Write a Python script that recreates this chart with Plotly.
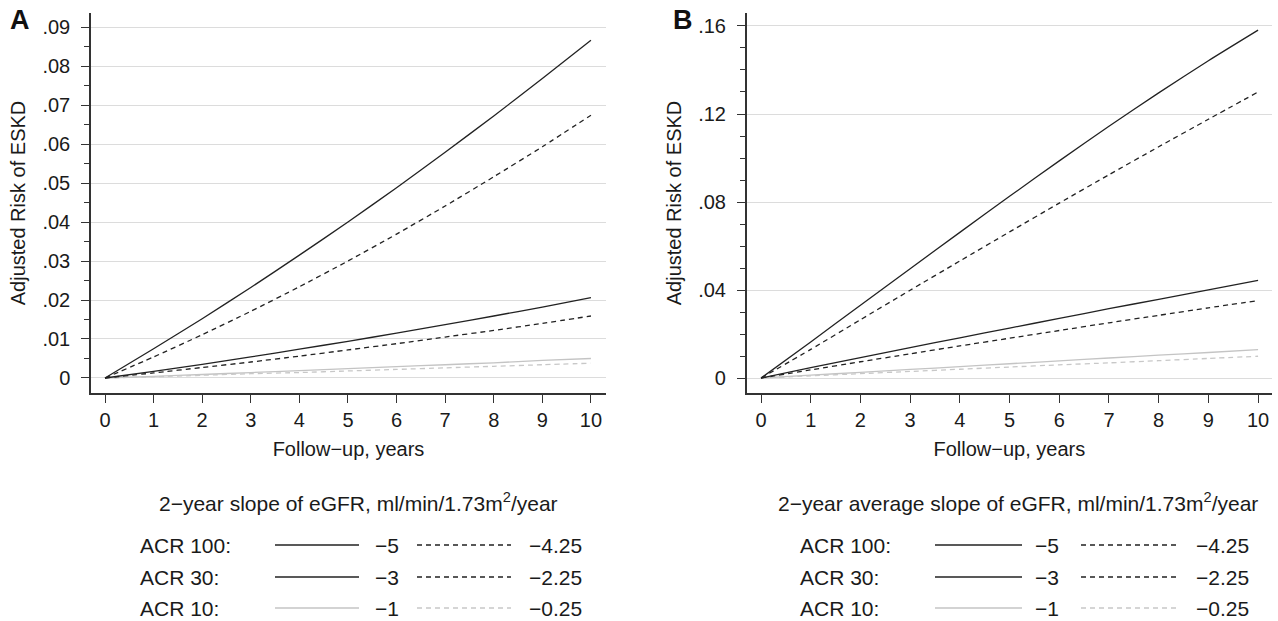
import plotly.graph_objects as go

# ---------------- data ----------------
years = [0, 1, 2, 3, 4, 5, 6, 7, 8, 9, 10]

# Panel A: 2-year slope of eGFR
a_acr100_m5 = [0, .0075, .0152, .0232, .0315, .0400, .0488, .0579, .0672, .0768, .0866]
a_acr100_m425 = [0, .0054, .0111, .0171, .0234, .0300, .0369, .0441, .0516, .0593, .0674]
a_acr30_m3 = [0, .0017, .0035, .0054, .0074, .0094, .0115, .0137, .0159, .0182, .0206]
a_acr30_m225 = [0, .0013, .0027, .0041, .0056, .0072, .0088, .0105, .0122, .0140, .0159]
a_acr10_m1 = [0, .0004, .0009, .0014, .0019, .0024, .0029, .0034, .0039, .0045, .0050]
a_acr10_m025 = [0, .0003, .0007, .0011, .0014, .0018, .0022, .0026, .0030, .0034, .0038]

# Panel B: 2-year average slope of eGFR
b_acr100_m5 = [0, .0164, .0331, .0497, .0662, .0826, .0987, .1144, .1296, .1442, .1581]
b_acr100_m425 = [0, .0130, .0265, .0399, .0532, .0664, .0795, .0924, .1051, .1176, .1300]
b_acr30_m3 = [0, .0047, .0093, .0138, .0183, .0227, .0271, .0315, .0358, .0401, .0444]
b_acr30_m225 = [0, .0037, .0074, .0110, .0146, .0181, .0216, .0251, .0285, .0319, .0352]
b_acr10_m1 = [0, .0013, .0026, .0039, .0052, .0065, .0078, .0091, .0104, .0116, .0129]
b_acr10_m025 = [0, .0010, .0020, .0030, .0040, .0050, .0060, .0069, .0079, .0089, .0099]

x_ticks = [0, 1, 2, 3, 4, 5, 6, 7, 8, 9, 10]
a_yticks = [0, .01, .02, .03, .04, .05, .06, .07, .08, .09]
a_yticktext = ["0", ".01", ".02", ".03", ".04", ".05", ".06", ".07", ".08", ".09"]
b_yticks = [0, .04, .08, .12, .16]
b_yticktext = ["0", ".04", ".08", ".12", ".16"]

row_labels = ["ACR 100:", "ACR 30:", "ACR 10:"]
solid_labels = ["\u22125", "\u22123", "\u22121"]
dash_labels = ["\u22124.25", "\u22122.25", "\u22120.25"]
a_legend_title = "2\u2212year slope of eGFR, ml/min/1.73m<sup>2</sup>/year"
b_legend_title = "2\u2212year average slope of eGFR, ml/min/1.73m<sup>2</sup>/year"

# ---------------- styling ----------------
W, H = 1278, 621
FONT = "Liberation Sans, Arial, Helvetica, sans-serif"
TXT = "#1a1a1a"
DARK = "#222222"
LIGHT = "#c4c4c4"
LIGHT_D = "#c8c8c8"
GRID = "#dcdcdc"
AXIS = "#333333"
DASH = "5px,4px"
LW = 1.3
LEG_FS = 21


def px(x):
    return x / W


def py(y):
    return 1 - y / H


fig = go.Figure()

series_a = [(a_acr100_m5, DARK, "solid"), (a_acr100_m425, DARK, DASH),
            (a_acr30_m3, DARK, "solid"), (a_acr30_m225, DARK, DASH),
            (a_acr10_m1, LIGHT, "solid"), (a_acr10_m025, LIGHT_D, DASH)]
series_b = [(b_acr100_m5, DARK, "solid"), (b_acr100_m425, DARK, DASH),
            (b_acr30_m3, DARK, "solid"), (b_acr30_m225, DARK, DASH),
            (b_acr10_m1, LIGHT, "solid"), (b_acr10_m025, LIGHT_D, DASH)]
names = ["ACR 100, \u22125", "ACR 100, \u22124.25", "ACR 30, \u22123",
         "ACR 30, \u22122.25", "ACR 10, \u22121", "ACR 10, \u22120.25"]

# draw light lines first so dark ones are on top
order = [4, 5, 2, 3, 0, 1]
for axes_suffix, series in (("", series_a), ("2", series_b)):
    for i in order:
        vals, col, dash = series[i]
        fig.add_trace(go.Scatter(x=years, y=vals, mode="lines", name=names[i],
                                 line=dict(color=col, width=LW, dash=dash,
                                           shape="spline", smoothing=0.6),
                                 xaxis="x" + axes_suffix, yaxis="y" + axes_suffix,
                                 showlegend=False))

common_x = dict(showline=True, linecolor=AXIS, linewidth=1.5, ticks="outside",
                ticklen=8, tickwidth=1.3, tickcolor=AXIS, showgrid=False,
                zeroline=False, tickmode="array", tickvals=x_ticks,
                tickfont=dict(size=20, color=TXT, family=FONT),
                title=dict(text="Follow\u2212up, years",
                           font=dict(size=20, color=TXT, family=FONT), standoff=12))
common_y = dict(showline=True, linecolor=AXIS, linewidth=1.5, ticks="outside",
                ticklen=8, tickwidth=1.3, tickcolor=AXIS, showgrid=True,
                gridcolor=GRID, gridwidth=1.3, zeroline=False, tickmode="array",
                ticklabelstandoff=7,
                tickfont=dict(size=20, color=TXT, family=FONT),
                title=dict(text="Adjusted Risk of ESKD",
                           font=dict(size=20, color=TXT, family=FONT), standoff=11))

fig.update_layout(
    width=W, height=H,
    margin=dict(l=0, r=0, t=0, b=0),
    paper_bgcolor="white", plot_bgcolor="white",
    font=dict(family=FONT, color=TXT, size=18),
    xaxis=dict(common_x, domain=[px(91), px(606)], range=[-0.288, 10.31], anchor="y"),
    yaxis=dict(common_y, domain=[py(393), py(13)], range=[-0.00385, 0.0936],
               tickvals=a_yticks, ticktext=a_yticktext, anchor="x",
               minor=dict(ticks="outside", ticklen=5, tickwidth=1.3, tickcolor=AXIS,
                          tick0=0, dtick=0.005, showgrid=False)),
    xaxis2=dict(common_x, domain=[px(746.7), px(1272)], range=[-0.288, 10.28], anchor="y2"),
    yaxis2=dict(common_y, domain=[py(393), py(13)], range=[-0.0068, 0.1659],
                tickvals=b_yticks, ticktext=b_yticktext, anchor="x2",
                minor=dict(ticks="outside", ticklen=5, tickwidth=1.3, tickcolor=AXIS,
                           tick0=0, dtick=0.01, showgrid=False)),
)

# panel letters
for letter, xx in (("A", 8), ("B", 671)):
    fig.add_annotation(text="<b>%s</b>" % letter, x=px(xx), y=py(20), xref="paper",
                       yref="paper", xanchor="left", yanchor="middle", showarrow=False,
                       font=dict(size=27, color="#111111", family=FONT))

# legends (drawn as keys)
legend_specs = [
    dict(title=a_legend_title, title_cx=358, lab_x=138, s0=275, s1=359, v1=373,
         d0=417, d1=511, v2=527),
    dict(title=b_legend_title, title_cx=1018, lab_x=798, s0=935, s1=1022, v1=1033,
         d0=1081, d1=1176, v2=1194),
]
row_y = [545, 577, 608]
row_cols = [(DARK, DARK), (DARK, DARK), (LIGHT, LIGHT_D)]
for spec in legend_specs:
    fig.add_annotation(text=spec["title"], x=px(spec["title_cx"]), y=py(502),
                       xref="paper", yref="paper", xanchor="center", yanchor="middle",
                       showarrow=False, font=dict(size=LEG_FS, color=TXT, family=FONT))
    for r in range(3):
        yy = row_y[r]
        fig.add_annotation(text=row_labels[r], x=px(spec["lab_x"]), y=py(yy),
                           xref="paper", yref="paper", xanchor="left", yanchor="middle",
                           showarrow=False, font=dict(size=LEG_FS, color=TXT, family=FONT))
        fig.add_shape(type="line", xref="paper", yref="paper",
                      x0=px(spec["s0"]), x1=px(spec["s1"]), y0=py(yy), y1=py(yy),
                      line=dict(color=row_cols[r][0], width=LW))
        fig.add_annotation(text=solid_labels[r], x=px(spec["v1"]), y=py(yy),
                           xref="paper", yref="paper", xanchor="left", yanchor="middle",
                           showarrow=False, font=dict(size=LEG_FS, color=TXT, family=FONT))
        fig.add_shape(type="line", xref="paper", yref="paper",
                      x0=px(spec["d0"]), x1=px(spec["d1"]), y0=py(yy), y1=py(yy),
                      line=dict(color=row_cols[r][1], width=LW, dash=DASH))
        fig.add_annotation(text=dash_labels[r], x=px(spec["v2"]), y=py(yy),
                           xref="paper", yref="paper", xanchor="left", yanchor="middle",
                           showarrow=False, font=dict(size=LEG_FS, color=TXT, family=FONT))

fig.write_html("out.html")
